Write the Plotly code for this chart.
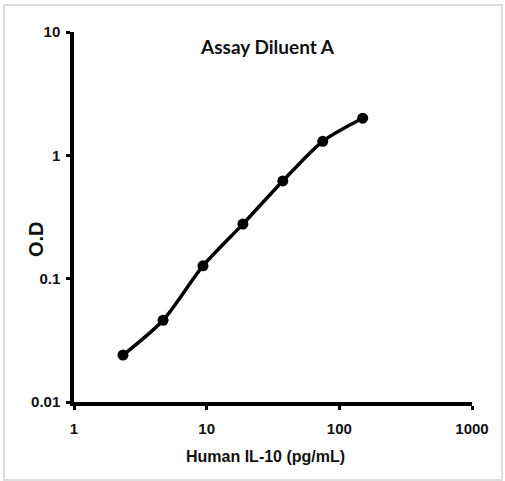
import plotly.graph_objects as go

concentration = [2.34, 4.69, 9.38, 18.75, 37.5, 75, 150]
od = [0.024, 0.046, 0.127, 0.277, 0.62, 1.30, 2.0]

x_ticks = [1, 10, 100, 1000]
x_tick_labels = ["1", "10", "100", "1000"]
y_ticks = [0.01, 0.1, 1, 10]
y_tick_labels = ["0.01", "0.1", "1", "10"]

title_text = "Assay Diluent A"
x_title = "Human IL-10 (pg/mL)"
y_title = "O.D"

font_family = "Liberation Sans, Arial"

fig = go.Figure()
fig.add_trace(go.Scatter(
    x=concentration, y=od, mode="lines+markers",
    line=dict(color="black", width=3.5, shape="spline", smoothing=0.8),
    marker=dict(color="black", size=11),
    showlegend=False,
))

fig.update_layout(
    width=505, height=481,
    margin=dict(l=74, r=33, t=32, b=79),
    paper_bgcolor="white", plot_bgcolor="white",
    font=dict(family=font_family, color="black"),
    xaxis=dict(
        type="log", range=[0, 3],
        tickvals=x_ticks, ticktext=["<b>%s</b>" % t for t in x_tick_labels],
        showline=True, linecolor="black", linewidth=3.5,
        ticks="outside", ticklen=4, tickwidth=3, tickcolor="black",
        showgrid=False, zeroline=False, ticklabelstandoff=6,
        tickfont=dict(size=15, family=font_family, color="#111111"),
    ),
    yaxis=dict(
        type="log", range=[-2, 1],
        tickvals=y_ticks, ticktext=["<b>%s</b>" % t for t in y_tick_labels],
        showline=True, linecolor="black", linewidth=3.5,
        ticks="outside", ticklen=4, tickwidth=3, tickcolor="black",
        showgrid=False, zeroline=False, ticklabelstandoff=3,
        tickfont=dict(size=15, family=font_family, color="#111111"),
    ),
    annotations=[
        dict(
            text=title_text, xref="paper", yref="paper",
            x=0.487, y=0.962, xanchor="center", yanchor="middle",
            showarrow=False, font=dict(size=19, family="Lato, Liberation Sans", color="#111111", weight="bold"),
        ),
        dict(
            text="<b>%s</b>" % x_title, xref="paper", yref="paper",
            x=0.48, y=-0.146, xanchor="center", yanchor="middle",
            showarrow=False, font=dict(size=16, family=font_family, color="#111111"),
        ),
        dict(
            text="<b>%s</b>" % y_title, xref="paper", yref="paper",
            x=-0.096, y=0.44, xanchor="center", yanchor="middle", textangle=-90,
            showarrow=False, font=dict(size=20, family=font_family, color="#111111"),
        ),
    ],
    shapes=[dict(
        type="rect", xref="paper", yref="paper",
        x0=-0.176, x1=1.075, y0=-0.211, y1=1.073,
        line=dict(color="#dddddd", width=2),
    )],
)

fig.write_html("out.html", config={"displayModeBar": False},
               post_script="document.body.style.margin='0px';")
